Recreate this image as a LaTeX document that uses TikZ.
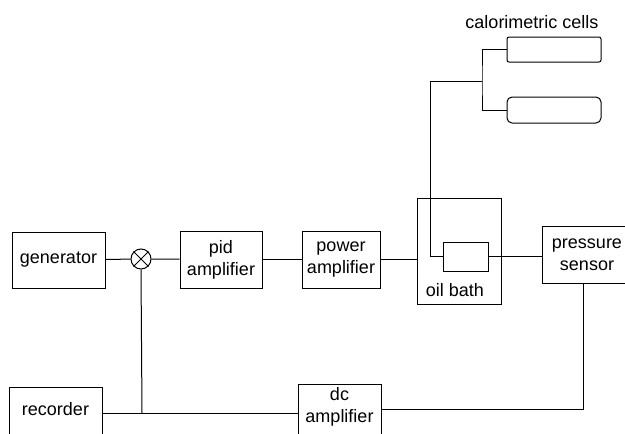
\documentclass[tikz,border=0pt]{standalone}
\usepackage{fontspec}
\setmainfont{Liberation Sans}
\usetikzlibrary{positioning}
\usetikzlibrary{calc}
\tikzset{
block/.style = {draw, line width=1pt, inner sep=0pt, align=center,
                font=\fontsize{18}{22}\selectfont,
                minimum width=#1},
block/.default = 84pt,
cellbox/.style = {draw, line width=1pt, rounded corners=#1,
                  minimum width=94pt, minimum height=25pt},
cellbox/.default = 2pt,
lbl/.style = {inner sep=0pt, font=\fontsize{18}{22}\selectfont}
}
\newcommand{\link}[2]{\draw[line width=1pt] (#1) -- (#2);}
\begin{document}
\begin{tikzpicture}[x=1pt, y=-1pt]
    \useasboundingbox (0,0) rectangle (625,434);

    % forward chain
    \node[block=93pt, minimum height=56pt] (gen) at (58.5,260) {generator};
    \node[draw, circle, line width=1pt, minimum size=20pt, inner sep=0pt] (mix) at (141,259) {};
    \draw[line width=1pt] (mix.north west) -- (mix.south east)
                          (mix.north east) -- (mix.south west);
    \node[block=82pt, minimum height=57pt] (pid) at (221,259.5) {pid\\amplifier};
    \node[block=78pt, minimum height=57pt] (power) at (341,259.5) {power\\amplifier};

    % oil bath with the cell in it
    \node[draw, line width=1pt, minimum width=84pt, minimum height=106pt] (bath) at (459,251) {};
    \node[lbl] (bathlbl) at (455,290) {oil bath};
    \node[draw, line width=1pt, minimum width=45pt, minimum height=29pt] (cell) at (465.5,256.5) {};
    \node[block=90pt, minimum height=57pt] (sensor) at (587,254.5) {pressure\\sensor};

    % calorimetric cells
    \node[lbl] (celltitle) at (532,22) {calorimetric cells};
    \node[cellbox] (cellA) at (554,49.5) {};
    \node[cellbox=5pt, minimum height=26pt] (cellB) at (554,110) {};
    \coordinate (up) at (430,81);
    \coordinate (fork) at (482,81);

    % feedback branch
    \node[block=93pt, minimum height=54pt] (rec) at (55.5,414) {};
    \node[lbl] (reclbl) at (55.5,409) {recorder};
    \node[block=83pt, minimum height=56pt] (dc) at (339.5,412) {};
    \node[lbl, align=center] (dclbl) at (339.5,407) {dc\\amplifier};
    \coordinate (tap) at (142,413);
    \coordinate (drop) at (583,409);

    \link{gen}{mix}
    \link{mix}{pid}
    \link{pid}{power}
    \draw[line width=1pt] (power.east) -- (power.east -| bath.west);
    \link{cell}{cell -| sensor.west}
    \draw[line width=1pt] (cell.west) -- (cell.west -| up) -- (up) -- (fork);
    \draw[line width=1pt] (cellA.west) -| (fork) |- (cellB.west);
    \draw[line width=1pt] (mix.south) -- (tap);
    \draw[line width=1pt] (rec.east |- tap) -- (dc.west |- tap);
    \draw[line width=1pt] (dc.east |- drop) -- (drop) -- (drop |- sensor.south);
\end{tikzpicture}
\end{document}
